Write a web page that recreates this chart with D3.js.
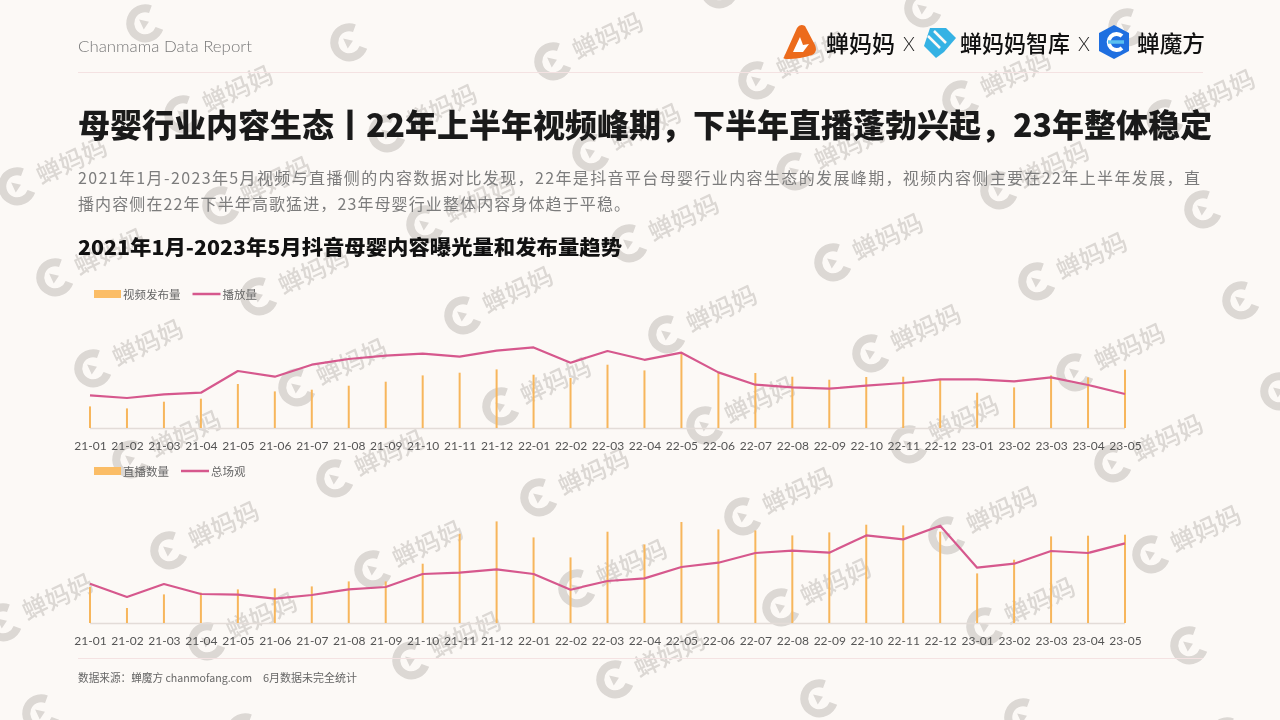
<!DOCTYPE html>
<html><head><meta charset="utf-8">
<script src="https://cdn.jsdelivr.net/npm/d3@7"></script>
<style>
html,body{margin:0;padding:0;background:#fcf9f6;}
svg{display:block;}
text{font-family:"Noto Sans CJK SC","Noto Sans",sans-serif;}
</style></head>
<body>
<svg id="c" width="1280" height="720"></svg>
<script>
// ---------- data ----------
const months = ["21-01","21-02","21-03","21-04","21-05","21-06","21-07","21-08","21-09","21-10","21-11","21-12",
  "22-01","22-02","22-03","22-04","22-05","22-06","22-07","22-08","22-09","22-10","22-11","22-12",
  "23-01","23-02","23-03","23-04","23-05"];
// chart 1: 视频发布量 (bars) / 播放量 (line), relative index
const videoPosts = [21.6,19.6,26.3,29.3,44,36.6,38.3,42.3,46.3,52.6,55.3,58.6,53.3,50,63.3,57.6,75.3,55,55,51.3,48.3,51,51.3,48.3,35.3,40.6,52.6,50.6,58.3];
const playViews  = [32.6,30,33.6,35.3,57,51.3,63.3,69,72.3,74.3,71.3,77.3,80.6,65.3,77,68.2,75.3,55.6,43.3,40.6,39.3,42.3,45,48.6,48.6,46.6,50.6,43,34];
// chart 2: 直播数量 (bars) / 总场观 (line), relative index
const liveCount  = [36,15,28.6,30.3,33.6,34.6,36.6,41.6,41.6,59.3,89.3,101.6,85.6,65.6,91.3,78.6,101,93.6,92.6,87.6,90.6,98.3,97.6,91.3,49.6,63.3,86.6,87.3,88.3];
const totalViews = [39.3,26,39,29,28.3,24.3,28,33.6,36,49,50.3,53.6,49,33.3,42,44.6,56,60.3,70,72.3,70.3,87.6,83.6,97.3,55.3,59.3,72,70,79.6];

const legend1 = ["视频发布量","播放量"];
const legend2 = ["直播数量","总场观"];

const titleText = "母婴行业内容生态丨22年上半年视频峰期，下半年直播蓬勃兴起，23年整体稳定";
const descLines = ["2021年1月-2023年5月视频与直播侧的内容数据对比发现，22年是抖音平台母婴行业内容生态的发展峰期，视频内容侧主要在22年上半年发展，直",
  "播内容侧在22年下半年高歌猛进，23年母婴行业整体内容身体趋于平稳。"];
const chartTitle = "2021年1月-2023年5月抖音母婴内容曝光量和发布量趋势";

// ---------- drawing ----------
const svg = d3.select("#c");
const BAR = "#f7b65c", LINE = "#d6588d";

svg.append("rect").attr("width",1280).attr("height",720).attr("fill","#fcf9f6");

// watermarks (lattice) drawn first, under content
const WM = "#9a948f";
const wm = svg.append("g").attr("opacity",0.33);
const marks = [];
for(let i=-2;i<=7;i++) for(let j=-3;j<=8;j++){
  const px = 69 + i*204 + j*38, py = 160 + i*19 + j*91;
  if(px>-90 && px<1370 && py>-50 && py<770) marks.push([px,py]);
}
marks.forEach(([px,py])=>{
  const u = wm.append("g").attr("transform",`translate(${px},${py}) rotate(-25)`);
  const inside = px>40 && px<1240 && py>24 && py<665;
  if(inside){
    u.append("text").attr("x",2).attr("y",0).attr("text-anchor","middle").attr("dominant-baseline","central")
      .attr("font-size",25).attr("font-weight",500).attr("fill",WM).text("蝉妈妈");
  }
  u.append("path").attr("d","M-47.4,-8.6 A15,15 0 1 0 -47.4,12.6").attr("fill","none")
    .attr("stroke",WM).attr("stroke-width",8);
  u.append("path").attr("d","M-62,-4 L-54,2 L-62,7 Z").attr("fill",WM);
});

// header
svg.append("text").attr("x",78).attr("y",46).attr("dominant-baseline","central")
  .attr("font-size",15.5).attr("fill","#7a7a7a").attr("font-weight",300)
  .attr("textLength",174).attr("lengthAdjust","spacingAndGlyphs")
  .style("font-family","Lato, 'Noto Sans', sans-serif").text("Chanmama Data Report");
svg.append("line").attr("x1",78).attr("x2",1203).attr("y1",72.5).attr("y2",72.5)
  .attr("stroke","#f4e2e2").attr("stroke-width",1);

// logos
const lg = svg.append("g");
lg.append("path").attr("d","M784,57 L797,28 Q800,23 805,26 L815,45 Q818,52 812,55 Q800,59 788,59 Q782,59 784,57 Z").attr("fill","#ec6b1c");
lg.append("path").attr("d","M793,52 L800,37 L803,45 L809,44 L803,52 Z").attr("fill","#fff");
lg.append("text").attr("x",826).attr("y",42).attr("dominant-baseline","central").attr("font-size",23)
  .attr("font-weight",500).attr("fill","#111").attr("textLength",69).attr("lengthAdjust","spacingAndGlyphs").text("蝉妈妈");
lg.append("text").attr("x",903).attr("y",43).attr("dominant-baseline","central").attr("font-size",19)
  .attr("font-weight",300).attr("fill","#222").style("font-family","Lato, sans-serif").text("X");
lg.append("path").attr("d","M930,28 L946,28 L956,38 L944,52 L936,58 L924,46 Z").attr("fill","#35b2e4");
lg.append("path").attr("d","M928,36 L940,48 M934,31 L946,43").attr("stroke","#fcf9f6").attr("stroke-width",2.5);
lg.append("text").attr("x",960).attr("y",42).attr("dominant-baseline","central").attr("font-size",23)
  .attr("font-weight",500).attr("fill","#111").attr("textLength",110).attr("lengthAdjust","spacingAndGlyphs").text("蝉妈妈智库");
lg.append("text").attr("x",1078).attr("y",43).attr("dominant-baseline","central").attr("font-size",19)
  .attr("font-weight",300).attr("fill","#222").style("font-family","Lato, sans-serif").text("X");
lg.append("path").attr("d","M1114,25 L1129,33 L1129,51 L1114,59 L1099,51 L1099,33 Z").attr("fill","#1f6fe0");
lg.append("path").attr("d","M1122,36 A8,8 0 1 0 1122,48").attr("fill","none").attr("stroke","#fff").attr("stroke-width",4);
lg.append("path").attr("d","M1108,42 L1124,42").attr("stroke","#5bc0f0").attr("stroke-width",3.5);
lg.append("text").attr("x",1137).attr("y",42).attr("dominant-baseline","central").attr("font-size",23)
  .attr("font-weight",500).attr("fill","#111").attr("textLength",68).attr("lengthAdjust","spacingAndGlyphs").text("蝉魔方");

// title
svg.append("text").attr("x",78).attr("y",123).attr("dominant-baseline","central")
  .attr("font-size",32).attr("font-weight",900).attr("fill","#1a1a1a")
  .attr("textLength",1134).attr("lengthAdjust","spacingAndGlyphs").text(titleText);
// description
const descW = [1122, 552];
descLines.forEach((t,i)=>{
  svg.append("text").attr("x",78).attr("y",177+i*26).attr("dominant-baseline","central")
    .attr("font-size",16).attr("fill","#7c7c7c")
    .attr("textLength",descW[i]).attr("lengthAdjust","spacing").text(t);
});
// chart title
svg.append("text").attr("x",78).attr("y",246).attr("dominant-baseline","central")
  .attr("font-size",20).attr("font-weight",900).attr("fill","#111")
  .attr("textLength",544).attr("lengthAdjust","spacingAndGlyphs").text(chartTitle);

// scales
const x = d3.scalePoint().domain(months).range([90,1125]);

function drawChart(axisY, legendY, bars, line, legendNames){
  const y = d3.scaleLinear().domain([0,100]).range([axisY, axisY-100]);
  const g = svg.append("g");
  g.append("line").attr("x1",x(months[0])).attr("x2",x(months[months.length-1]))
    .attr("y1",axisY+0.5).attr("y2",axisY+0.5).attr("stroke","#e3dcd8").attr("stroke-width",1.5);
  g.selectAll("rect.b").data(bars).join("rect").attr("class","b")
    .attr("x",(d,i)=>x(months[i])-1).attr("width",2)
    .attr("y",d=>y(d)).attr("height",d=>y(0)-y(d)).attr("fill",BAR);
  g.append("path").datum(line)
    .attr("d",d3.line().x((d,i)=>x(months[i])).y(d=>y(d)))
    .attr("fill","none").attr("stroke",LINE).attr("stroke-width",2.2).attr("stroke-linejoin","round");
  const ax = d3.axisBottom(x).tickSize(0).tickPadding(0);
  const axg = g.append("g").attr("transform",`translate(0,${axisY+17})`).call(ax);
  axg.select(".domain").remove();
  axg.selectAll("text").attr("dy",null).attr("dominant-baseline","central")
    .attr("font-size",12).attr("fill","#555")
    .style("font-family","Lato, 'Noto Sans', sans-serif");
  const lgd = g.append("g");
  lgd.append("rect").attr("x",94).attr("y",legendY-4).attr("width",27).attr("height",8).attr("fill","#fbbd66");
  lgd.append("text").attr("x",123).attr("y",legendY).attr("dominant-baseline","central")
    .attr("font-size",11.5).attr("fill","#666").text(legendNames[0]);
  const lx = 123 + legendNames[0].length*11.5 + 12;
  lgd.append("line").attr("x1",lx).attr("x2",lx+28).attr("y1",legendY).attr("y2",legendY)
    .attr("stroke",LINE).attr("stroke-width",2.5);
  lgd.append("text").attr("x",lx+30).attr("y",legendY).attr("dominant-baseline","central")
    .attr("font-size",11.5).attr("fill","#666").text(legendNames[1]);
}
drawChart(428, 294, videoPosts, playViews, legend1);
drawChart(623, 471, liveCount, totalViews, legend2);

// footer
svg.append("line").attr("x1",78).attr("x2",1203).attr("y1",658.5).attr("y2",658.5)
  .attr("stroke","#f4e2e2").attr("stroke-width",1);
svg.append("text").attr("x",78).attr("y",677).attr("dominant-baseline","central")
  .attr("font-size",11).attr("fill","#666").attr("textLength",174).attr("lengthAdjust","spacingAndGlyphs")
  .text("数据来源：蝉魔方 chanmofang.com");
svg.append("text").attr("x",263).attr("y",677).attr("dominant-baseline","central")
  .attr("font-size",11).attr("fill","#666").text("6月数据未完全统计");
</script>
</body></html>
